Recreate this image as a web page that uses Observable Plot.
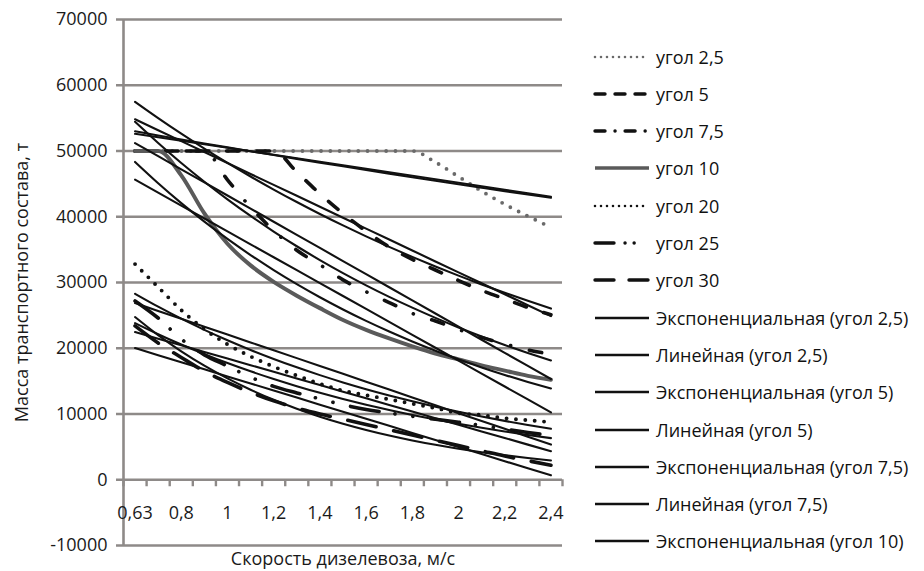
<!DOCTYPE html>
<html><head><meta charset="utf-8">
<script src="https://cdn.jsdelivr.net/npm/d3@7"></script>
<script src="https://cdn.jsdelivr.net/npm/@observablehq/plot@0.6"></script>
<style>
body{margin:0;background:#fff;font-family:"Open Sans",sans-serif;}
#wrap{position:relative;width:924px;height:571px;overflow:hidden;}
#chart{position:absolute;left:0;top:0;}
#legend{position:absolute;left:593px;top:0;width:331px;height:571px;}
.row{position:absolute;left:0;height:24px;display:flex;align-items:center;white-space:nowrap;font-size:18px;color:#111;}
.row svg{margin-right:5px;flex:none;}
</style></head><body><div id="wrap"><div id="chart"></div><div id="legend"></div></div>
<script>
// categories (speed, m/s)
const speeds = ["0,63","0,7","0,8","0,9","1","1,1","1,2","1,3","1,4","1,5","1,6","1,7","1,8","1,9","2","2,1","2,2","2,3","2,4"];
const labelledSpeeds = ["0,63","0,8","1","1,2","1,4","1,6","1,8","2","2,2","2,4"];
const yTicks = [-10000,0,10000,20000,30000,40000,50000,60000,70000];

// series: train mass, t
const angle2_5 = [50000,50000,50000,50000,50000,50000,50000,50000,50000,50000,50000,50000,50000,48300,46100,43900,41900,40100,38400];
const angle5   = [50000,50000,50000,50000,50000,50000,50000,46800,43500,40500,37800,35400,33500,31900,30300,28800,27500,26200,25100];
const angle7_5 = [50000,50000,50000,50000,45600,41450,37900,34900,32700,30400,28600,26950,25300,24150,22850,21650,20650,19750,19100];
const angle10  = [50000,50000,46300,40500,35900,32600,30100,28000,26100,24300,22800,21500,20300,19200,18300,17400,16600,15800,15200];
const angle20  = [32800,29300,25800,22900,20600,18750,17200,15850,14580,13560,12850,12230,11570,10900,10150,9830,9370,9060,8750];
const angle25  = [27200,24600,21400,19000,17300,15600,14200,13200,12300,11400,10700,10150,9650,9200,8750,8250,7700,7200,6700];
const angle30  = [23400,20800,18600,16500,14800,13300,12000,10900,10000,9200,8400,7600,6800,6000,5200,4400,3600,2900,2200];

const seriesNames = ["угол 2,5","угол 5","угол 7,5","угол 10","угол 20","угол 25","угол 30"];
const seriesValues = [angle2_5, angle5, angle7_5, angle10, angle20, angle25, angle30];

const gridColor = "#8e8a88";
const styles = {
  "угол 2,5": {stroke:"#6a6a6a", strokeWidth:3.8, strokeDasharray:"0 9.3", strokeLinecap:"round"},
  "угол 5":   {stroke:"#111", strokeWidth:3.6, strokeDasharray:"12.5 18", strokeLinecap:"round"},
  "угол 7,5": {stroke:"#111", strokeWidth:3.6, strokeDasharray:"12.5 19.3 0.1 19.3", strokeLinecap:"round"},
  "угол 10":  {stroke:"#5a5a5a", strokeWidth:4, strokeLinecap:"round"},
  "угол 20":  {stroke:"#111", strokeWidth:3.9, strokeDasharray:"0 9.4", strokeLinecap:"round"},
  "угол 25":  {stroke:"#111", strokeWidth:3.6, strokeDasharray:"29 16 0.1 18 0.1 18", strokeLinecap:"round"},
  "угол 30":  {stroke:"#111", strokeWidth:3.6, strokeDasharray:"29 18", strokeLinecap:"round"}
};
const legendStyles = {
  "угол 2,5": {stroke:"#6a6a6a", strokeWidth:2.6, strokeDasharray:"0 6", strokeLinecap:"round"},
  "угол 20":  {stroke:"#111", strokeWidth:2.6, strokeDasharray:"0 6", strokeLinecap:"round"},
  "угол 5":   {stroke:"#111", strokeWidth:3.4, strokeDasharray:"10 10", strokeLinecap:"round"},
  "угол 7,5": {stroke:"#111", strokeWidth:3.4, strokeDasharray:"10 10 0.1 10", strokeLinecap:"round"},
  "угол 10":  {stroke:"#5a5a5a", strokeWidth:3.6},
  "угол 25":  {stroke:"#111", strokeWidth:3.4, strokeDasharray:"19 11 0.1 9 0.1 30", strokeLinecap:"round"},
  "угол 30":  {stroke:"#111", strokeWidth:3.4, strokeDasharray:"19 15", strokeLinecap:"round"}
};

// Excel-style trendlines (fit against category number 1..n)
function linearTrend(vals){
  const xs = vals.map((_, i) => i + 1);
  const mx = d3.mean(xs), my = d3.mean(vals);
  const b = d3.sum(xs, (x, i) => (x - mx) * (vals[i] - my)) / d3.sum(xs, x => (x - mx) ** 2);
  const a = my - b * mx;
  return xs.map(x => a + b * x);
}
function expTrend(vals){
  const logs = vals.map(Math.log), xs = vals.map((_, i) => i + 1);
  const mx = d3.mean(xs), my = d3.mean(logs);
  const b = d3.sum(xs, (x, i) => (x - mx) * (logs[i] - my)) / d3.sum(xs, x => (x - mx) ** 2);
  const a = my - b * mx;
  return xs.map(x => Math.exp(a + b * x));
}

const toRows = vals => vals.map((v, i) => ({i, v}));
const dataMarks = seriesNames.map((name, k) =>
  Plot.line(toRows(seriesValues[k]), {x:"i", y:"v", curve:"monotone-x", ...styles[name]}));
const trendMarks = [];
seriesNames.forEach((name, k) => {
  trendMarks.push(Plot.line(toRows(expTrend(seriesValues[k])), {x:"i", y:"v", curve:"natural", stroke:"#111", strokeWidth:2.1}));
  trendMarks.push(Plot.line(toRows(linearTrend(seriesValues[k])), {x:"i", y:"v", stroke:"#111", strokeWidth:2.1}));
});

const labelIdx = labelledSpeeds.map(s => speeds.indexOf(s));
const boundaries = d3.range(speeds.length + 1).map(i => i - 0.5);

const chart = Plot.plot({
  width: 580, height: 571,
  marginLeft: 123, marginRight: 18, marginTop: 19, marginBottom: 26,
  x: {type:"linear", domain:[-0.5, speeds.length - 0.5], axis:null},
  y: {domain:[-10000, 70000], axis:null},
  style: {fontFamily:"'Open Sans', sans-serif", fontSize:"18px", color:"#1a1a1a", background:"#fff"},
  marks: [
    Plot.ruleY(yTicks, {stroke:gridColor, strokeWidth:2.6, insetLeft:-7}),
    Plot.ruleX([-0.5], {y1:-10000, y2:70000, stroke:gridColor, strokeWidth:2.6}),
    Plot.ruleX(boundaries, {y1:0, y2:0, insetBottom:-7, stroke:gridColor, strokeWidth:2.4}),
    Plot.axisY({ticks:yTicks, tickSize:0, tickPadding:16, tickFormat:d => String(d), fontSize:18, label:null}),
    Plot.text(labelIdx, {x:d => d, y:0, text:d => speeds[d], dy:33, fontSize:18, fill:"#1a1a1a"}),
    ...dataMarks,
    ...trendMarks,
    Plot.text(["Скорость дизелевоза, м/с"], {frameAnchor:"bottom", lineAnchor:"middle", dy:14, fontSize:18, fill:"#1a1a1a"}),
    Plot.text(["Масса транспортного состава, т"], {frameAnchor:"left", textAnchor:"middle", lineAnchor:"middle", rotate:-90, dx:-101, fontSize:18, fill:"#1a1a1a"})
  ]
});
document.getElementById("chart").appendChild(chart);

// legend
const legendNames = [...seriesNames,
  "Экспоненциальная (угол 2,5)","Линейная (угол 2,5)",
  "Экспоненциальная (угол 5)","Линейная (угол 5)",
  "Экспоненциальная (угол 7,5)","Линейная (угол 7,5)",
  "Экспоненциальная (угол 10)"];
const legend = d3.select("#legend");
legendNames.forEach((name, r) => {
  const row = legend.append("div").attr("class","row").style("top", (44.5 + r * 37.3) + "px");
  const svg = row.append("svg").attr("width", 58).attr("height", 24);
  const st = legendStyles[name] || {stroke:"#111", strokeWidth:2.4};
  svg.append("line").attr("x1", 2).attr("x2", 56).attr("y1", 12).attr("y2", 12)
    .attr("stroke", st.stroke).attr("stroke-width", st.strokeWidth)
    .attr("stroke-dasharray", st.strokeDasharray || null)
    .attr("stroke-linecap", st.strokeLinecap || "butt");
  row.append("span").text(name);
});
</script></body></html>
